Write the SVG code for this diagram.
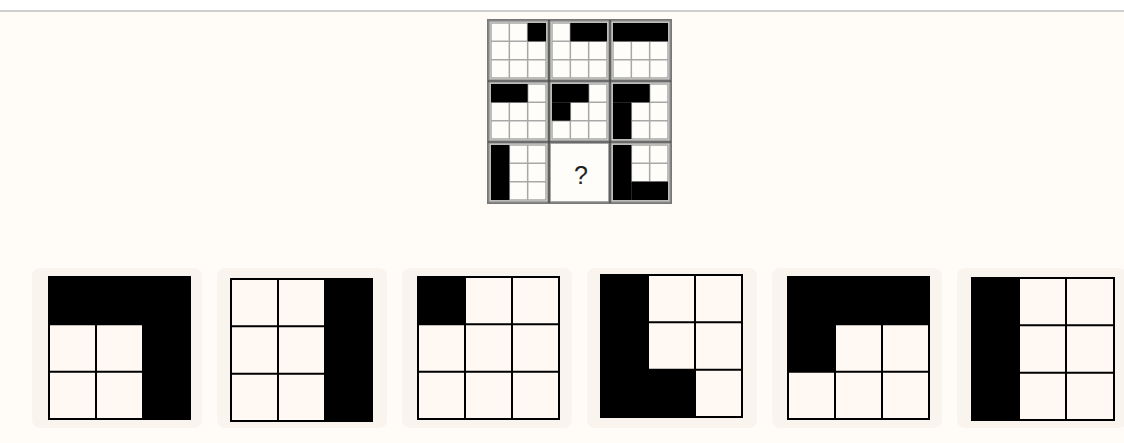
<svg xmlns="http://www.w3.org/2000/svg" width="1124" height="443" viewBox="0 0 1124 443">
<style>
.bg{fill:#fffcf7}
.card{fill:#faf4ef}
.pcell{fill:#fffdf9;stroke:#8a8a8a;stroke-width:1.5}
.sub{stroke:#a8a8a8;stroke-width:1.5;fill:none}
.blk{fill:#000}
.ocell{fill:#fff8f3;stroke:#000;stroke-width:2}
.q{font-family:"Liberation Sans",Arial,sans-serif;font-size:25px;fill:#222}
</style>
<rect x="0" y="0" width="1124" height="443" class="bg"/>
<rect x="0" y="0" width="1124" height="10" fill="#ffffff"/>
<rect x="0" y="10" width="1124" height="2" fill="#cfcfcf"/>

<g id="puzzle">
<rect x="488" y="20" width="183" height="183" fill="#fffdf9" stroke="#777" stroke-width="2"/>
<g id="p00">
<rect x="489" y="21" width="59" height="59" class="pcell"/>
<path class="sub" d="M491 23h55v55h-55z M509.33 23v55 M527.67 23v55 M491 41.33h55 M491 59.67h55"/>
<rect x="527.67" y="23" width="18.33" height="18.33" class="blk"/>
</g>
<g id="p01">
<rect x="550" y="21" width="59" height="59" class="pcell"/>
<path class="sub" d="M552 23h55v55h-55z M570.33 23v55 M588.67 23v55 M552 41.33h55 M552 59.67h55"/>
<rect x="570.33" y="23" width="36.67" height="18.33" class="blk"/>
</g>
<g id="p02">
<rect x="611" y="21" width="59" height="59" class="pcell"/>
<path class="sub" d="M613 23h55v55h-55z M631.33 23v55 M649.67 23v55 M613 41.33h55 M613 59.67h55"/>
<rect x="613" y="23" width="55" height="18.33" class="blk"/>
</g>
<g id="p10">
<rect x="489" y="82" width="59" height="59" class="pcell"/>
<path class="sub" d="M491 84h55v55h-55z M509.33 84v55 M527.67 84v55 M491 102.33h55 M491 120.67h55"/>
<rect x="491" y="84" width="36.67" height="18.33" class="blk"/>
</g>
<g id="p11">
<rect x="550" y="82" width="59" height="59" class="pcell"/>
<path class="sub" d="M552 84h55v55h-55z M570.33 84v55 M588.67 84v55 M552 102.33h55 M552 120.67h55"/>
<rect x="552" y="84" width="36.67" height="18.33" class="blk"/>
<rect x="552" y="102.33" width="18.33" height="18.33" class="blk"/>
</g>
<g id="p12">
<rect x="611" y="82" width="59" height="59" class="pcell"/>
<path class="sub" d="M613 84h55v55h-55z M631.33 84v55 M649.67 84v55 M613 102.33h55 M613 120.67h55"/>
<rect x="613" y="84" width="36.67" height="18.33" class="blk"/>
<rect x="613" y="102.33" width="18.33" height="36.67" class="blk"/>
</g>
<g id="p20">
<rect x="489" y="143" width="59" height="59" class="pcell"/>
<path class="sub" d="M491 145h55v55h-55z M509.33 145v55 M527.67 145v55 M491 163.33h55 M491 181.67h55"/>
<rect x="491" y="145" width="18.33" height="55" class="blk"/>
</g>
<g id="p21">
<rect x="550" y="143" width="59" height="59" fill="#fffdf9" stroke="#8a8a8a" stroke-width="1.5"/>
<text x="581" y="184" text-anchor="middle" class="q">?</text>
</g>
<g id="p22">
<rect x="611" y="143" width="59" height="59" class="pcell"/>
<path class="sub" d="M613 145h55v55h-55z M631.33 145v55 M649.67 145v55 M613 163.33h55 M613 181.67h55"/>
<rect x="613" y="145" width="18.33" height="55" class="blk"/>
<rect x="631.33" y="181.67" width="36.67" height="18.33" class="blk"/>
</g>
<path d="M549 20v183 M610 20v183 M488 81h183 M488 142h183" stroke="#333" stroke-width="1.2" fill="none"/>
</g>

<g id="opt1">
<rect x="32" y="268" width="170" height="160" rx="8" class="card"/>
<path class="ocell" d="M49 277h141v142h-141z M96 277v142 M143 277v142 M49 324.33h141 M49 371.67h141"/>
<path class="blk" d="M49 277h141v142h-47v-94.67h-94z"/>
</g>
<g id="opt2">
<rect x="217" y="268" width="170" height="160" rx="8" class="card"/>
<path class="ocell" d="M231 279h141v142h-141z M278 279v142 M325 279v142 M231 326.33h141 M231 373.67h141"/>
<rect x="325" y="279" width="47" height="142" class="blk"/>
</g>
<g id="opt3">
<rect x="402" y="268" width="170" height="160" rx="8" class="card"/>
<path class="ocell" d="M418 277h141v142h-141z M465 277v142 M512 277v142 M418 324.33h141 M418 371.67h141"/>
<rect x="418" y="277" width="47" height="47.33" class="blk"/>
</g>
<g id="opt4">
<rect x="587" y="268" width="170" height="160" rx="8" class="card"/>
<path class="ocell" d="M601 275h141v142h-141z M648 275v142 M695 275v142 M601 322.33h141 M601 369.67h141"/>
<path class="blk" d="M601 275h47v94.67h47v47.33h-94z"/>
</g>
<g id="opt5">
<rect x="772" y="268" width="170" height="160" rx="8" class="card"/>
<path class="ocell" d="M788 277h141v142h-141z M835 277v142 M882 277v142 M788 324.33h141 M788 371.67h141"/>
<path class="blk" d="M788 277h141v47.33h-94v47.34h-47z"/>
</g>
<g id="opt6">
<rect x="957" y="268" width="170" height="160" rx="8" class="card"/>
<path class="ocell" d="M972 278h142v142h-142z M1019 278v142 M1066 278v142 M972 325.33h142 M972 372.67h142"/>
<rect x="972" y="278" width="47" height="142" class="blk"/>
</g>
</svg>
